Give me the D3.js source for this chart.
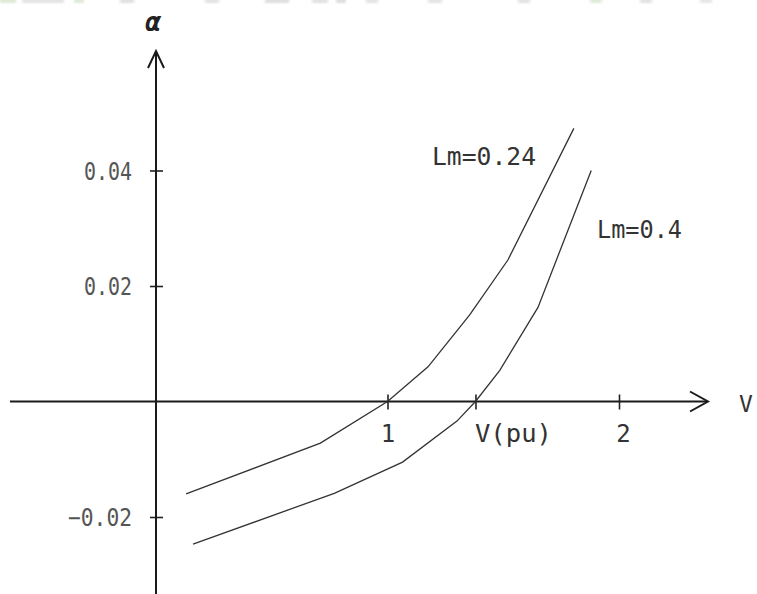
<!DOCTYPE html>
<html>
<head>
<meta charset="utf-8">
<script src="https://cdn.jsdelivr.net/npm/d3@7"></script>
<style>
  html, body { margin: 0; padding: 0; background: #fff; }
  svg { display: block; }
  text { font-family: "DejaVu Sans Mono", monospace; }
</style>
</head>
<body>
<svg id="chart" width="757" height="594"></svg>
<script>
// Voltage (pu) vs. alpha for two magnetizing inductances
const curveLm024V = [0.13, 0.71, 1.0, 1.175, 1.355, 1.52, 1.805];
const curveLm024A = [-0.016, -0.0072, 0.0, 0.006, 0.015, 0.0245, 0.0473];
const curveLm04V  = [0.16, 0.77, 1.065, 1.30, 1.38, 1.485, 1.65, 1.88];
const curveLm04A  = [-0.0247, -0.0159, -0.0105, -0.0034, 0.0, 0.0054, 0.0163, 0.040];
const seriesNames = ["Lm=0.24", "Lm=0.4"];
const xTickValues = [1, 1.38, 2];
const xTickLabels = ["1", "V(pu)", "2"];
const yTickValues = [0.04, 0.02, -0.02];
const yTickLabels = ["0.04", "0.02", "\u22120.02"];

const svg = d3.select("#chart");

// scales: origin of the cross-shaped axes sits at (156, 401.5)
const x = d3.scaleLinear().domain([0, 2]).range([156, 619]);
const y = d3.scaleLinear().domain([0, 0.04]).range([401.5, 170.5]);

// faint smudges along the top edge
svg.append("defs").append("filter").attr("id", "soft")
  .append("feGaussianBlur").attr("stdDeviation", 1.5);
const smudges = [[0,16,"#dbe7d2"],[22,42,"#e2e2e2"],[74,10,"#dde9d5"],[120,14,"#dedede"],
  [205,14,"#e0e0e0"],[265,24,"#dcdcdc"],[312,16,"#e0e0e0"],[336,10,"#dcdcdc"],[366,12,"#e2e2e2"],
  [428,14,"#e2e2e2"],[518,12,"#e0e0e0"],[590,12,"#dee9d6"],[640,12,"#e0e0e0"],[700,12,"#e4e4e4"]];
svg.append("g").selectAll("rect").data(smudges).join("rect")
  .attr("x", d => d[0]).attr("y", -2).attr("width", d => d[1]).attr("height", 5)
  .attr("fill", d => d[2]).attr("filter", "url(#soft)");

// x axis through the origin
const xAxis = d3.axisBottom(x).tickValues(xTickValues)
  .tickFormat((d, i) => xTickLabels[i]).tickSizeOuter(0);
const gx = svg.append("g").attr("transform", `translate(0,${y(0)})`).call(xAxis);
gx.select(".domain").remove();
gx.selectAll(".tick line").attr("y1", -7).attr("y2", 8).attr("stroke", "#222").attr("stroke-width", 1.6);
gx.selectAll(".tick text")
  .attr("font-family", "DejaVu Sans Mono").attr("font-size", 24).attr("fill", "#333")
  .attr("y", 40).attr("dy", 0)
  .attr("text-anchor", (d, i) => i === 1 ? "start" : "middle")
  .attr("dx", (d, i) => i === 1 ? -1 : (i === 2 ? 4 : 0))
  .attr("textLength", (d, i) => i === 1 ? 77 : null)
  .attr("lengthAdjust", "spacingAndGlyphs");

// y axis through the origin
const yAxis = d3.axisLeft(y).tickValues(yTickValues)
  .tickFormat((d, i) => yTickLabels[i]).tickSizeOuter(0);
const gy = svg.append("g").attr("transform", `translate(${x(0)},0)`).call(yAxis);
gy.select(".domain").remove();
gy.selectAll(".tick line").attr("x1", -6).attr("x2", 7).attr("stroke", "#222").attr("stroke-width", 1.6);
gy.selectAll(".tick text")
  .attr("font-family", "DejaVu Sans Mono").attr("font-size", 24).attr("fill", "#555")
  .attr("x", -24).attr("dy", "0.36em")
  .attr("textLength", (d, i) => i === 2 ? 64 : 48)
  .attr("lengthAdjust", "spacingAndGlyphs");

// axis lines with open arrowheads
const axisStyle = g => g.attr("fill", "none").attr("stroke", "#1a1a1a").attr("stroke-width", 2);
svg.append("line").call(axisStyle)
  .attr("x1", 10).attr("y1", y(0)).attr("x2", 707).attr("y2", y(0));
svg.append("polyline").call(axisStyle)
  .attr("points", `690,${y(0) - 10} 708,${y(0)} 690,${y(0) + 10}`);
svg.append("line").call(axisStyle)
  .attr("x1", x(0)).attr("y1", 52).attr("x2", x(0)).attr("y2", 594);
svg.append("polyline").call(axisStyle)
  .attr("points", `${x(0) - 8},68 ${x(0)},51 ${x(0) + 8},68`);

// axis titles
svg.append("text").attr("x", 153).attr("y", 31).attr("text-anchor", "middle")
  .attr("font-family", "DejaVu Sans").attr("font-style", "italic").attr("font-weight", "bold")
  .attr("font-size", 26).attr("fill", "#222").text("\u03b1");
svg.append("text").attr("x", 739).attr("y", 412)
  .attr("font-size", 23).attr("fill", "#333").text("V");

// the two curves
const line = d3.line().x(d => x(d[0])).y(d => y(d[1]));
const series = [
  d3.zip(curveLm024V, curveLm024A),
  d3.zip(curveLm04V, curveLm04A)
];
svg.append("g").selectAll("path").data(series).join("path")
  .attr("d", line).attr("fill", "none").attr("stroke", "#333").attr("stroke-width", 1.3);

// curve labels
const labelPos = [[432, 165, 104], [597, 238, 85]];
svg.append("g").selectAll("text").data(seriesNames).join("text")
  .attr("x", (d, i) => labelPos[i][0]).attr("y", (d, i) => labelPos[i][1])
  .attr("font-size", 24).attr("fill", "#333")
  .attr("textLength", (d, i) => labelPos[i][2]).attr("lengthAdjust", "spacingAndGlyphs")
  .text(d => d);
</script>
</body>
</html>
